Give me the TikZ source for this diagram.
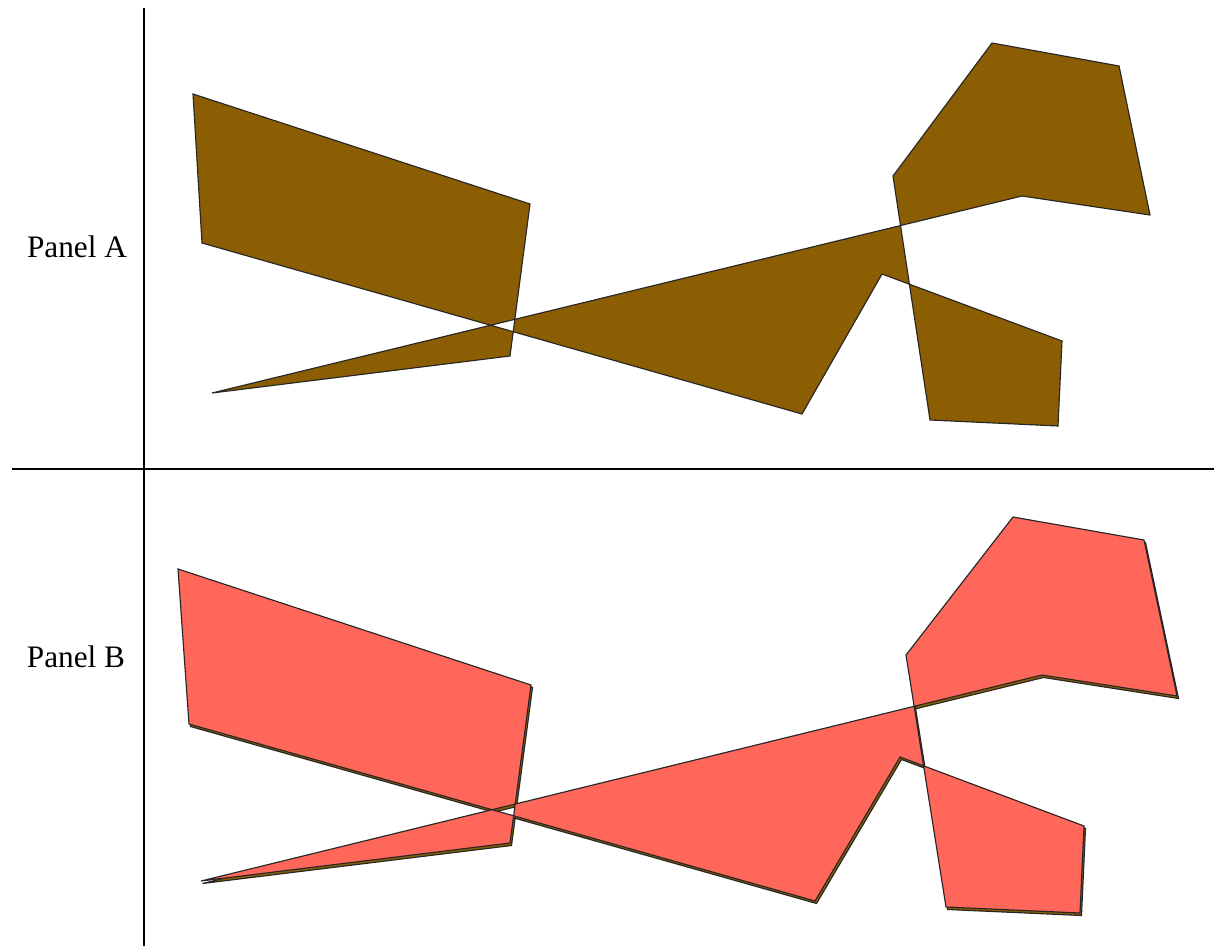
\documentclass[tikz,border=0pt]{standalone}
\usepackage{fontspec}
\setmainfont{Liberation Serif}
\definecolor{polybrown}{RGB}{139,94,3}
\definecolor{polysalmon}{RGB}{255,103,91}
\tikzset{
  poly/.style={draw=black!85, line width=0.65pt, even odd rule, line join=miter},
  axthick/.style={line width=1.1pt, black},
  axthin/.style={line width=0.6pt, black},
  lbl/.style={font=\fontsize{17.8}{20}\selectfont, inner sep=0pt}
}
\begin{document}
\begin{tikzpicture}[x=0.02cm,y=-0.02cm]
\useasboundingbox (0,0) rectangle (1214,946);
% axes
\draw[axthick] (144,8) -- (144,946);
\draw[axthick] (12,469) -- (158,469);
\draw[axthin] (158,469) -- (1183,469);
\draw[axthick] (1183,469) -- (1214,469);
% labels
\node[lbl] (la) at (77,247) {Panel A};
\node[lbl] (lb) at (76,657) {Panel B};
% Panel A polygon
\filldraw[poly, fill=polybrown]
 (193,94) -- (530,204) -- (510,356) -- (212,393) -- (1022,196) -- (1150,215)
 -- (1119,66) -- (992,43) -- (893,176) -- (930,420) -- (1058,426) -- (1062,341)
 -- (882,274) -- (802,414) -- (202,243) -- cycle;
% Panel B: brown copy behind
\begin{scope}[shift={(1.5,2.5)}]
\filldraw[poly, fill=polybrown]
 (178,569) -- (531,685) -- (510,843) -- (201,881) -- (1042,675) -- (1177,696)
 -- (1144,540) -- (1013,517) -- (906,655) -- (946,907) -- (1080,913) -- (1084,826)
 -- (900,757) -- (815,901) -- (189,724) -- cycle;
\end{scope}
% Panel B: salmon polygon
\filldraw[poly, fill=polysalmon]
 (178,569) -- (531,685) -- (510,843) -- (201,881) -- (1042,675) -- (1177,696)
 -- (1144,540) -- (1013,517) -- (906,655) -- (946,907) -- (1080,913) -- (1084,826)
 -- (900,757) -- (815,901) -- (189,724) -- cycle;
\end{tikzpicture}
\end{document}
